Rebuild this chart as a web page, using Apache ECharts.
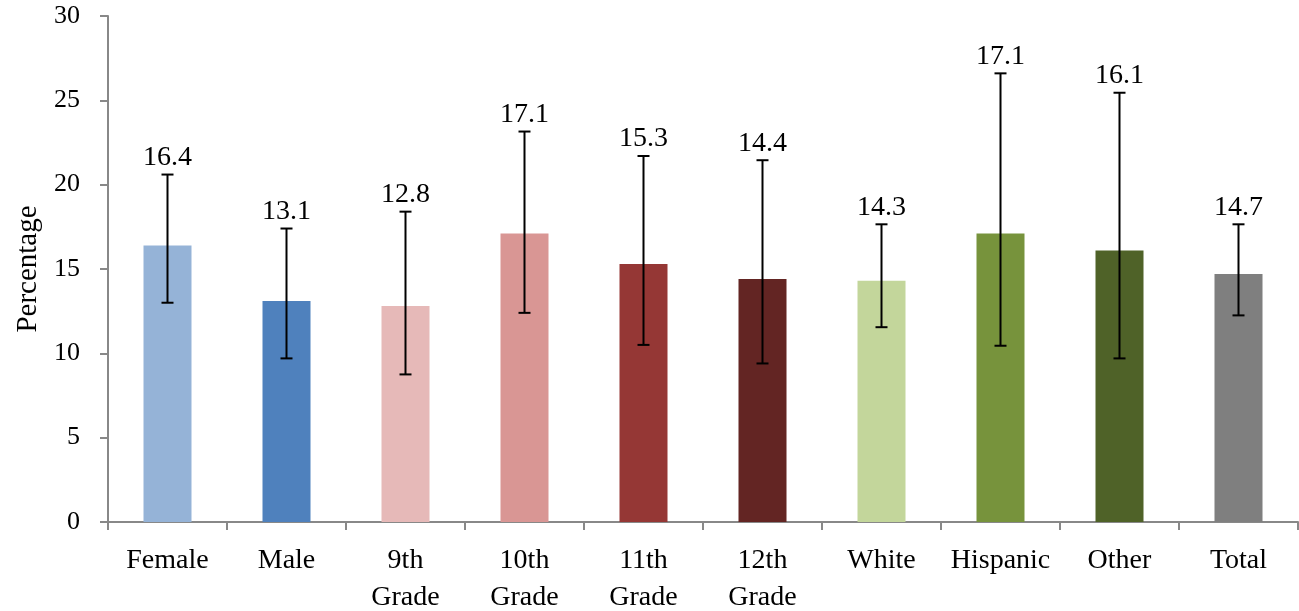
<!DOCTYPE html>
<html><head><meta charset="utf-8">
<script src="https://cdn.jsdelivr.net/npm/echarts@6/dist/echarts.min.js"></script>
<style>html,body{margin:0;padding:0;background:#fff}#c{width:1299px;height:611px}</style>
</head><body><div id="c"></div>
<script>
const categories = ['Female','Male','9th\nGrade','10th\nGrade','11th\nGrade','12th\nGrade','White','Hispanic','Other','Total'];
const values = [16.4,13.1,12.8,17.1,15.3,14.4,14.3,17.1,16.1,14.7];
const errLow = [13.0,9.7,8.75,12.4,10.5,9.4,11.55,10.45,9.7,12.25];
const errHigh = [20.6,17.4,18.4,23.15,21.7,21.45,17.65,26.6,25.45,17.65];
const colors = ['#95B3D7','#4F81BD','#E6B9B8','#D99694','#953735','#632523','#C3D69B','#77933C','#4F6228','#7F7F7F'];
const yTicks = {min:0, max:30, interval:5};

const font = "'Liberation Serif', 'DejaVu Serif', serif";
const chart = echarts.init(document.getElementById('c'));
chart.setOption({
  animation:false,
  grid:{left:108,right:1,top:16,bottom:89,outerBoundsMode:'none',containLabel:false},
  xAxis:{type:'category',data:categories,
    axisLine:{lineStyle:{color:'#888',width:2}},
    axisTick:{show:true,length:8,lineStyle:{color:'#888',width:2}},
    axisLabel:{interval:0,hideOverlap:false,color:'#000',fontFamily:font,fontSize:28,lineHeight:37,margin:20}},
  yAxis:{type:'value',min:yTicks.min,max:yTicks.max,interval:yTicks.interval,
    name:'Percentage',nameLocation:'middle',nameGap:65,nameRotate:90,
    nameTextStyle:{color:'#000',fontFamily:font,fontSize:29},
    splitLine:{show:false},
    axisLine:{show:true,lineStyle:{color:'#888',width:2}},
    axisTick:{show:true,length:8,lineStyle:{color:'#888',width:2}},
    axisLabel:{color:'#000',fontFamily:font,fontSize:26,margin:28}},
  series:[
    {type:'bar',barWidth:48,data:values.map((v,i)=>({value:v,itemStyle:{color:colors[i]}}))},
    {type:'custom',z:5,
     data:values.map((v,i)=>[i,errLow[i],errHigh[i],v]),
     renderItem:function(params,api){
       const x=api.value(0);
       const lo=api.coord([x,api.value(1)]);
       const hi=api.coord([x,api.value(2)]);
       const cap=6;
       const st={stroke:'#000',lineWidth:2};
       return {type:'group',children:[
         {type:'line',shape:{x1:lo[0],y1:lo[1],x2:hi[0],y2:hi[1]},style:st},
         {type:'line',shape:{x1:lo[0]-cap,y1:lo[1],x2:lo[0]+cap,y2:lo[1]},style:st},
         {type:'line',shape:{x1:hi[0]-cap,y1:hi[1],x2:hi[0]+cap,y2:hi[1]},style:st},
         {type:'text',style:{text:String(api.value(3).toFixed(1)),x:hi[0],y:hi[1]-3,
           textAlign:'center',textVerticalAlign:'bottom',fill:'#000',
           font:'28px '+font}}
       ]};
     }}
  ]
});
</script></body></html>
